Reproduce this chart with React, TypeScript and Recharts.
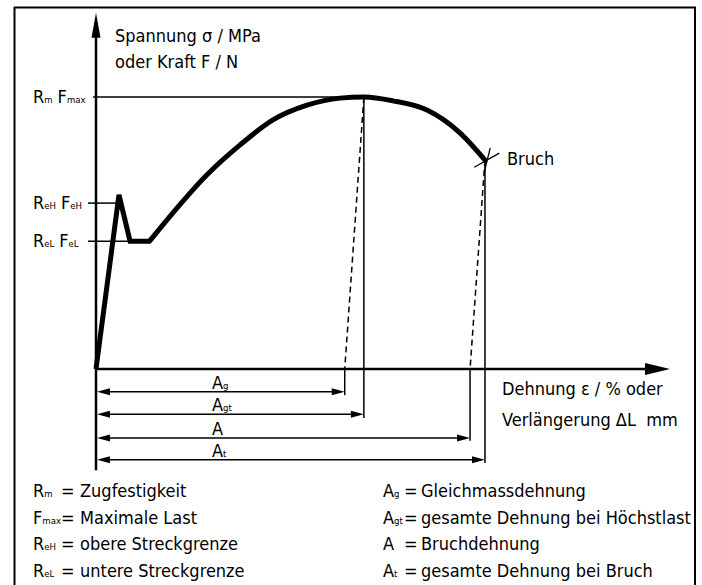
import {
  ComposedChart, Line, XAxis, YAxis, ReferenceLine, ReferenceDot,
} from "recharts";

// ─── Data (schematic stress-strain curve, strain in %, stress in MPa) ──
const elasticX = [0, 1.2, 1.78, 2.8];
const elasticY = [0, 320, 235, 235];

const hardeningX = [2.8, 4.02, 5.8, 7.53, 9.25, 11.03, 12.75, 14.0, 15.52, 17.3, 19.02, 20.33];
const hardeningY = [235, 287, 357, 412, 458, 485, 498, 500, 493, 476, 434, 384];

// characteristic stresses: Rm, ReH, ReL
const stressTicks = [500, 305, 235];
const stressLabels = [
  ["R", "m", "F", "max"],
  ["R", "eH", "F", "eH"],
  ["R", "eL", "F", "eL"],
];

// characteristic strains: Ag, Agt, A, At
const strainSubs = ["g", "gt", "", "t"];
const strainValues = [13.0, 14.0, 19.55, 20.33];

const legendLeft = [
  ["R", "m", "Zugfestigkeit"],
  ["F", "max", "Maximale Last"],
  ["R", "eH", "obere Streckgrenze"],
  ["R", "eL", "untere Streckgrenze"],
];
const legendRight = [
  ["A", "g", "Gleichmassdehnung"],
  ["A", "gt", "gesamte Dehnung bei Höchstlast"],
  ["A", "", "Bruchdehnung"],
  ["A", "t", "gesamte Dehnung bei Bruch"],
];

const elastic = elasticX.map((x, i) => ({ x, y: elasticY[i] }));
const hardening = hardeningX.map((x, i) => ({ x, y: hardeningY[i] }));

const FONT = "'DejaVu Sans Condensed', 'Liberation Sans', sans-serif";
const FS = 18;
const SUB = 9.5;

// layout (in data units below the strain axis)
const dimLevels = [-42, -83, -127, -167];
const dimDrops = [-48, -90, -132, -173];
const tickStart = -0.42;
const labelX = 6.06;

const black = "#000";

function arrow(dir: "up" | "right" | "left", len: number, half: number) {
  return (p: any) => {
    const { cx, cy } = p;
    let pts = "";
    if (dir === "up") pts = `${cx},${cy} ${cx - half},${cy + len} ${cx + half},${cy + len}`;
    if (dir === "right") pts = `${cx},${cy} ${cx - len},${cy - half} ${cx - len},${cy + half}`;
    if (dir === "left") pts = `${cx},${cy} ${cx + len},${cy - half} ${cx + len},${cy + half}`;
    return <polygon points={pts} fill={black} />;
  };
}

function SubText({ x, y, base, sub }: any) {
  return (
    <text x={x} y={y} fontFamily={FONT} fontSize={FS} fill={black}>
      {base}
      <tspan fontSize={SUB}>{sub}</tspan>
    </text>
  );
}

function StressTick(props: any) {
  const { y, payload } = props;
  const idx = stressTicks.indexOf(payload.value);
  const lab = stressLabels[idx];
  if (!lab) return null;
  return (
    <text x={33} y={y + 6} fontFamily={FONT} fontSize={FS} fill={black}>
      {lab[0]}
      <tspan fontSize={SUB}>{lab[1]}</tspan>
      <tspan dx={5}>{lab[2]}</tspan>
      <tspan fontSize={SUB}>{lab[3]}</tspan>
    </text>
  );
}

export default function App() {
  const rm = stressTicks[0];
  const bruch = hardening[hardening.length - 1];
  const peak = hardening[7];

  return (
    <div style={{ position: "absolute", left: 0, top: 0, width: 702, height: 585, background: "#fff", overflow: "hidden" }}>
      <ComposedChart
        width={702}
        height={585}
        margin={{ top: 10, right: 32, bottom: 107.2, left: 0 }}
      >
        <XAxis type="number" dataKey="x" domain={[0, 30]} hide />
        <YAxis
          type="number"
          domain={[-200, 660]}
          ticks={stressTicks}
          width={96}
          axisLine={false}
          tickLine={false}
          tick={<StressTick />}
        />

        {/* axes */}
        <ReferenceLine segment={[{ x: 0, y: -186 }, { x: 0, y: 630 }]} stroke={black} strokeWidth={2.5} ifOverflow="visible" />
        <ReferenceDot x={0} y={655} r={0} ifOverflow="visible" shape={arrow("up", 25, 4.5)} />
        <ReferenceLine segment={[{ x: 0, y: 0 }, { x: 29, y: 0 }]} stroke={black} strokeWidth={2.5} ifOverflow="visible" />
        <ReferenceDot x={30} y={0} r={0} ifOverflow="visible" shape={arrow("right", 25, 6)} />

        {/* stress level lines */}
        <ReferenceLine segment={[{ x: -0.16, y: rm }, { x: peak.x, y: rm }]} stroke={black} strokeWidth={1.5} ifOverflow="visible" />
        <ReferenceLine segment={[{ x: tickStart, y: stressTicks[1] }, { x: 1.14, y: stressTicks[1] }]} stroke={black} strokeWidth={1.5} ifOverflow="visible" />
        <ReferenceLine segment={[{ x: tickStart, y: stressTicks[2] }, { x: 1.78, y: stressTicks[2] }]} stroke={black} strokeWidth={1.5} ifOverflow="visible" />

        {/* unloading (dashed) lines */}
        <ReferenceLine segment={[{ x: peak.x, y: peak.y }, { x: strainValues[0], y: 0 }]} stroke={black} strokeWidth={1.5} strokeDasharray="6 4" ifOverflow="visible" />
        <ReferenceLine segment={[{ x: bruch.x, y: bruch.y }, { x: strainValues[2], y: 0 }]} stroke={black} strokeWidth={1.5} strokeDasharray="6 4" ifOverflow="visible" />

        {/* vertical extension lines */}
        <ReferenceLine segment={[{ x: strainValues[0], y: 0 }, { x: strainValues[0], y: dimDrops[0] }]} stroke={black} strokeWidth={1.5} ifOverflow="visible" />
        <ReferenceLine segment={[{ x: strainValues[1], y: peak.y }, { x: strainValues[1], y: dimDrops[1] }]} stroke={black} strokeWidth={1.5} ifOverflow="visible" />
        <ReferenceLine segment={[{ x: strainValues[2], y: 0 }, { x: strainValues[2], y: dimDrops[2] }]} stroke={black} strokeWidth={1.5} ifOverflow="visible" />
        <ReferenceLine segment={[{ x: strainValues[3], y: bruch.y }, { x: strainValues[3], y: dimDrops[3] }]} stroke={black} strokeWidth={1.5} ifOverflow="visible" />

        {/* dimension arrows */}
        {strainValues.map((v, i) => (
          <ReferenceLine key={`d${i}`} segment={[{ x: 0.3, y: dimLevels[i] }, { x: v - 0.3, y: dimLevels[i] }]} stroke={black} strokeWidth={1.5} ifOverflow="visible" />
        ))}
        {strainValues.map((v, i) => (
          <ReferenceDot key={`l${i}`} x={0.05} y={dimLevels[i]} r={0} ifOverflow="visible" shape={arrow("left", 13, 3.5)} />
        ))}
        {strainValues.map((v, i) => (
          <ReferenceDot key={`r${i}`} x={v} y={dimLevels[i]} r={0} ifOverflow="visible" shape={arrow("right", 13, 3.5)} />
        ))}
        {strainValues.map((v, i) => (
          <ReferenceDot
            key={`t${i}`}
            x={labelX}
            y={dimLevels[i]}
            r={0}
            ifOverflow="visible"
            shape={(p: any) => <SubText x={p.cx} y={p.cy - 3} base="A" sub={strainSubs[i]} />}
          />
        ))}

        {/* Bruch marker */}
        <ReferenceLine segment={[{ x: 19.77, y: 371 }, { x: 21.08, y: 397 }]} stroke={black} strokeWidth={1.3} ifOverflow="visible" />
        <ReferenceLine segment={[{ x: 20.6, y: 406 }, { x: 20.28, y: 360 }]} stroke={black} strokeWidth={1.3} ifOverflow="visible" />
        <ReferenceDot
          x={bruch.x}
          y={bruch.y}
          r={0}
          ifOverflow="visible"
          shape={(p: any) => (
            <text x={p.cx + 22} y={p.cy + 5} fontFamily={FONT} fontSize={FS} fill={black}>Bruch</text>
          )}
        />

        {/* curve */}
        <Line data={elastic} dataKey="y" type="linear" stroke={black} strokeWidth={5} dot={false} activeDot={false} isAnimationActive={false} />
        <Line data={hardening} dataKey="y" type="monotone" stroke={black} strokeWidth={5} dot={false} activeDot={false} strokeLinecap="round" isAnimationActive={false} />
      </ComposedChart>

      <svg width={702} height={585} style={{ position: "absolute", left: 0, top: 0, pointerEvents: "none" }}>
        {/* frame */}
        <line x1={14.5} y1={7} x2={14.5} y2={585} stroke={black} strokeWidth={2} />
        <line x1={14} y1={7.5} x2={696} y2={7.5} stroke={black} strokeWidth={2} />
        <line x1={695} y1={7} x2={695} y2={585} stroke={black} strokeWidth={2} />
        <g fontFamily={FONT} fontSize={FS} fill={black}>
          <text x={115} y={42}>Spannung σ / MPa</text>
          <text x={115} y={68}>oder Kraft F / N</text>
          <text x={502} y={395}>Dehnung ε / % oder</text>
          <text x={502} y={426}>Verlängerung ΔL{"\u00A0\u00A0"}mm</text>
        </g>
        {legendLeft.map((r, i) => (
          <g key={`ll${i}`}>
            <SubText x={33} y={497 + i * 26.7} base={r[0]} sub={r[1]} />
            <text x={61} y={497 + i * 26.7} fontFamily={FONT} fontSize={FS}>=</text>
            <text x={80} y={497 + i * 26.7} fontFamily={FONT} fontSize={FS}>{r[2]}</text>
          </g>
        ))}
        {legendRight.map((r, i) => (
          <g key={`lr${i}`}>
            <SubText x={383} y={497 + i * 26.7} base={r[0]} sub={r[1]} />
            <text x={404} y={497 + i * 26.7} fontFamily={FONT} fontSize={FS}>=</text>
            <text x={421} y={497 + i * 26.7} fontFamily={FONT} fontSize={FS}>{r[2]}</text>
          </g>
        ))}
      </svg>
    </div>
  );
}
